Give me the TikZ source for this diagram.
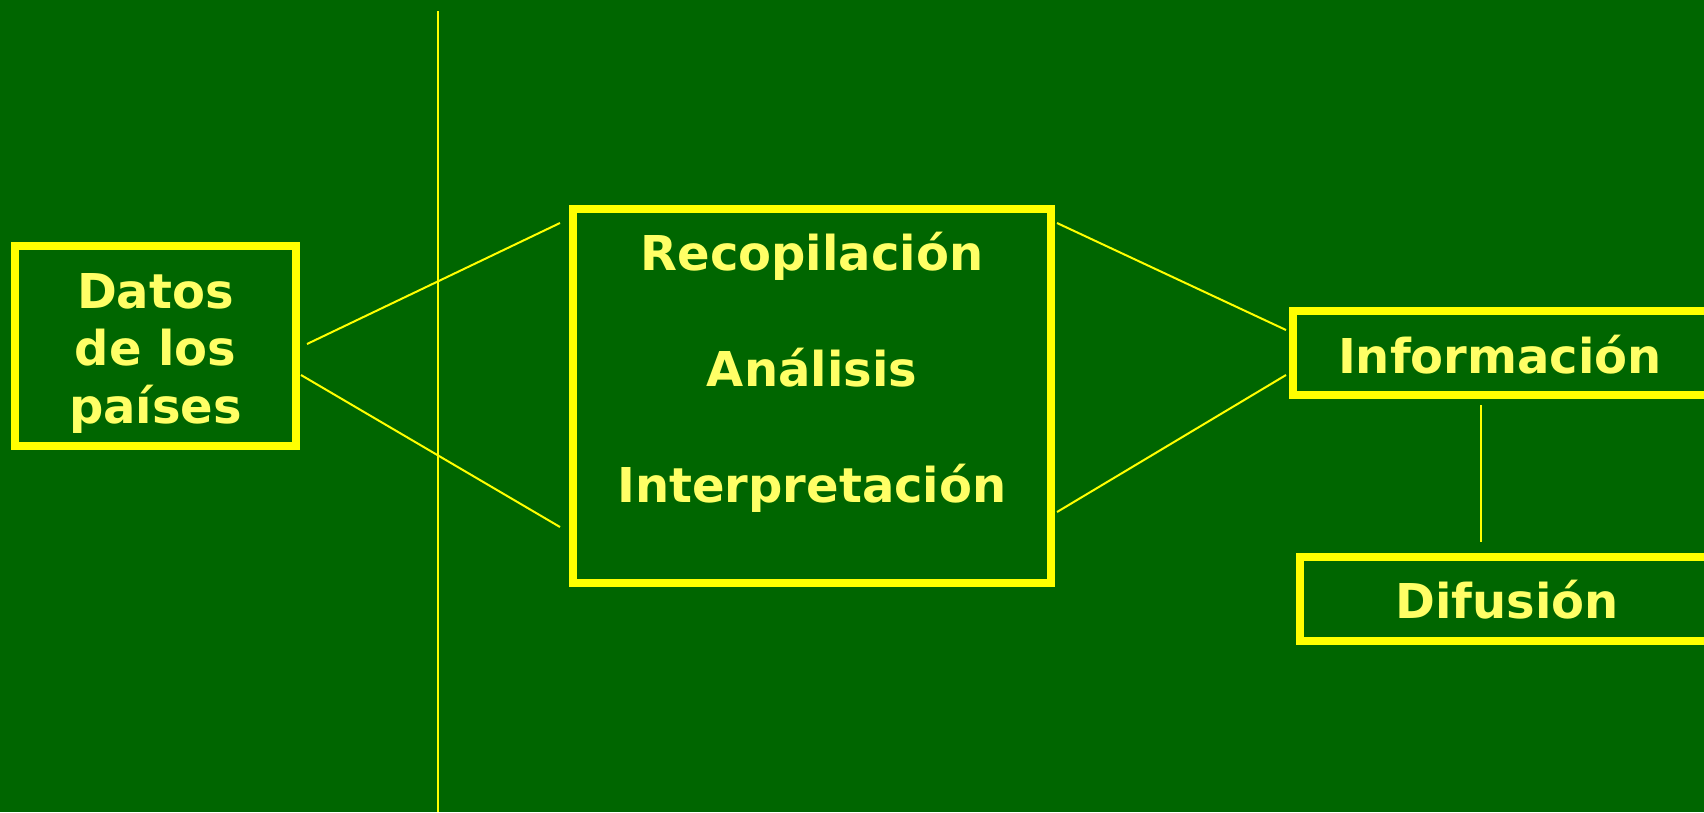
\documentclass[tikz,border=0pt]{standalone}
\usepackage{fontspec}
\setmainfont{DejaVu Sans}
\definecolor{bggreen}{HTML}{006600}
\definecolor{boxyellow}{HTML}{FFFF00}
\definecolor{txtyellow}{HTML}{FFFF66}
\tikzset{
  boxnode/.style={draw=boxyellow, line width=8pt, rectangle, inner sep=0pt, outer sep=0pt},
  lbl/.style={text=txtyellow, font=\fontsize{48}{56}\selectfont\bfseries, anchor=base, inner sep=0pt},
  conn/.style={draw=boxyellow, line width=2pt},
}
\begin{document}
\begin{tikzpicture}[x=1pt,y=-1pt]
\fill[bggreen] (0,0) rectangle (1704,812);
\useasboundingbox (0,0) rectangle (1704,812);
\begin{scope}
\clip (0,0) rectangle (1704,812);
% boxes
\node[boxnode, minimum width=281pt, minimum height=200pt] (datos) at (155.5,346) {};
\node[boxnode, minimum width=478pt, minimum height=373.5pt] (proc) at (812,395.75) {};
\node[boxnode, minimum width=500pt, minimum height=84pt] (info) at (1543,353) {};
\node[boxnode, minimum width=500pt, minimum height=84pt] (dif) at (1550,599) {};
% texts
\node[lbl] (t1) at (155.5,308) {Datos};
\node[lbl] (t2) at (155.5,365) {de los};
\node[lbl] (t3) at (155.5,423) {países};
\node[lbl] (t4) at (812,270) {Recopilación};
\node[lbl] (t5) at (812,386) {Análisis};
\node[lbl] (t6) at (812,502) {Interpretación};
\node[lbl] (t7) at (1500,373) {Información};
\node[lbl] (t8) at (1507,618) {Difusión};
% connector end points
\coordinate (d1) at (307,344);
\coordinate (d2) at (301,375);
\coordinate (p1) at (560,223);
\coordinate (p2) at (560,527);
\coordinate (p3) at (1057,223);
\coordinate (p4) at (1057,512);
\coordinate (i1) at (1286,330);
\coordinate (i2) at (1286,375);
\coordinate (i3) at (1481,405);
\coordinate (f1) at (1481,542);
\coordinate (vtop) at (438,11);
\coordinate (vbot) at (438,812);
% connectors
\draw[conn] (d1) -- (p1);
\draw[conn] (d2) -- (p2);
\draw[conn] (p3) -- (i1);
\draw[conn] (p4) -- (i2);
\draw[conn] (i3) -- (f1);
\draw[conn] (vtop) -- (vbot);
\end{scope}
\end{tikzpicture}
\end{document}
